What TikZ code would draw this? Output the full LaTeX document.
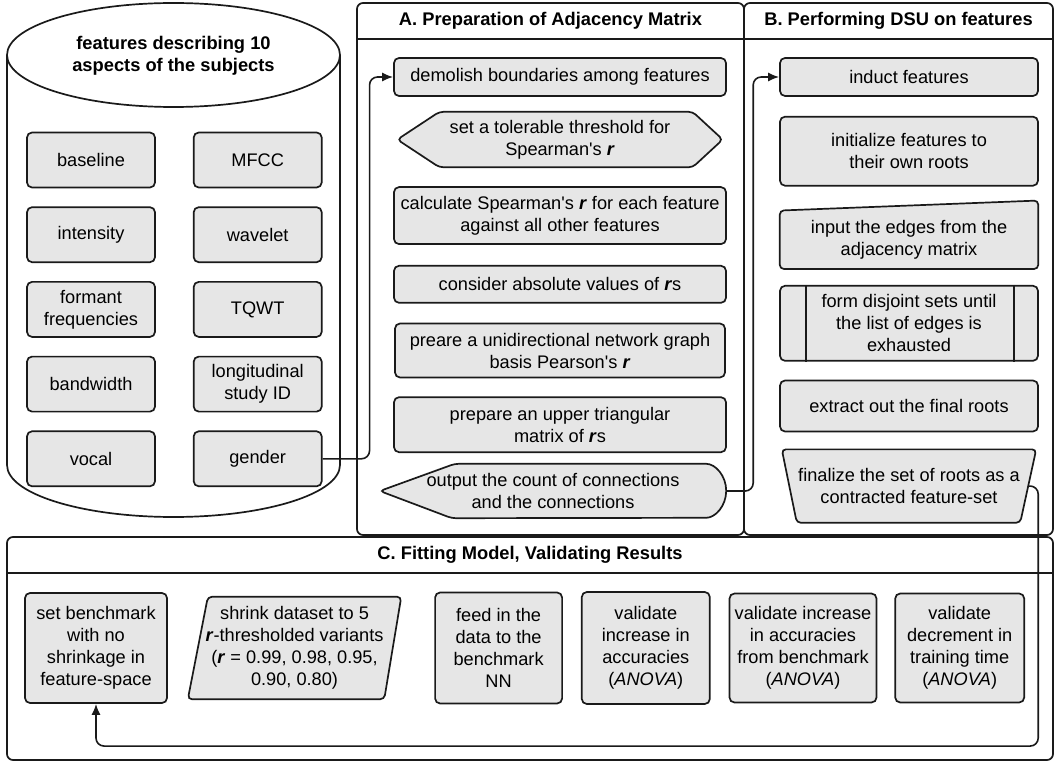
\documentclass[tikz,border=0pt]{standalone}
\usepackage{fontspec}
\setmainfont{Liberation Sans}
\usetikzlibrary{positioning,calc,arrows.meta,backgrounds}

\definecolor{boxfill}{HTML}{E6E6E6}
\definecolor{ink}{HTML}{1A1A1A}
\newcommand{\rbold}{\textbf{\textit{r}}}

\tikzset{
  box/.style={draw=ink, fill=boxfill, line width=1.7pt, rounded corners=5pt, align=center, inner sep=1pt},
  feat/.style={box, minimum width=128pt, minimum height=55pt},
  bare/.style={align=center, inner sep=1pt},
  outline/.style={draw=ink, fill=boxfill, line width=1.7pt, rounded corners=4pt},
  frame/.style={draw=ink, line width=1.7pt, rounded corners=6pt},
  flow/.style={draw=ink, line width=1.6pt, rounded corners=8pt, -{Latex[length=11pt,width=9pt]}},
  paneltitle/.style={font=\fontsize{18.3}{22}\selectfont\bfseries, align=center},
}

\begin{document}
\begin{tikzpicture}[x=1pt,y=-1pt,node distance=18pt,font=\fontsize{18.2}{22}\selectfont]
    \useasboundingbox (0,0) rectangle (1057,767);

    % panels
    \draw[frame] (357,3) rectangle (744,535);
    \draw[frame] (744,3) rectangle (1053,535);
    \draw[ink, line width=1.7pt] (357,39) -- (1053,39);
    \draw[frame] (7,537) rectangle (1053,760);
    \draw[ink, line width=1.7pt] (7,573) -- (1053,573);
    \node[paneltitle] (titleA) at (550.5,21) {A. Preparation of Adjacency Matrix};
    \node[paneltitle] (titleB) at (898.5,21) {B. Performing DSU on features};
    \node[paneltitle] (titleC) at (530,555) {C. Fitting Model, Validating Results};

    % feature store
    \node[paneltitle] (store) at (173.5,56) {features describing 10\\aspects of the subjects};
    \node[feat] (base) at (91,160) {baseline};
    \node[feat] (inten) [below=of base] {intensity};
    \node[feat] (formant) [below=of inten] {formant\\frequencies};
    \node[feat] (band) [below=of formant] {bandwidth};
    \node[feat] (vocal) [below=of band] {vocal};
    \node[feat] (mfcc) [right=37pt of base] {MFCC};
    \node[feat] (wave) [right=37pt of inten] {wavelet};
    \node[feat] (tqwt) [right=37pt of formant] {TQWT};
    \node[feat] (study) [right=37pt of band] {longitudinal\\study ID};
    \node[feat] (gender) [right=37pt of vocal] {gender};

    % A. adjacency matrix
    \node[box, minimum width=332pt, minimum height=38pt] (demol) at (560,77) {demolish boundaries among features};
    \node[bare, minimum width=325pt, minimum height=55pt] (thresh) [below=15pt of demol] {set a tolerable threshold for\\Spearman\textquotesingle s \rbold};
    \node[box, minimum width=332pt, minimum height=57pt] (calc) [below=19pt of thresh] {calculate Spearman\textquotesingle s \rbold{} for each feature\\against all other features};
    \node[box, minimum width=332pt, minimum height=37pt] (absol) [below=20pt of calc] {consider absolute values of \rbold{}s};
    \node[box, minimum width=330pt, minimum height=54pt] (graph) [below=19pt of absol] {preare a unidirectional network graph\\basis Pearson\textquotesingle s \rbold};
    \node[box, minimum width=332pt, minimum height=55pt] (upper) [below=of graph] {prepare an upper triangular\\matrix of \rbold{}s};
    \node[bare, minimum width=346pt, minimum height=54pt] (out) at (553,491) {output the count of connections\\and the connections};

    % B. DSU
    \node[box, minimum width=258pt, minimum height=38pt] (induct) at (909,77) {induct features};
    \node[box, minimum width=258pt, minimum height=69pt] (init) [below=19pt of induct] {initialize features to\\their own roots};
    \node[bare, minimum width=258pt, minimum height=58pt] (edges) [below=24pt of init] {input the edges from the\\adjacency matrix};
    \node[box, minimum width=258pt, minimum height=75pt] (disj) [below=16pt of edges] {form disjoint sets until\\the list of edges is\\exhausted};
    \node[box, minimum width=258pt, minimum height=51pt] (roots) [below=of disj] {extract out the final roots};
    \node[bare, minimum width=254pt, minimum height=73pt] (final) [below=17pt of roots] {finalize the set of roots as a\\contracted feature-set};
    \draw[ink, line width=1.7pt] ([xshift=27pt]disj.north west) -- ([xshift=27pt]disj.south west);
    \draw[ink, line width=1.7pt] ([xshift=-25pt]disj.north east) -- ([xshift=-25pt]disj.south east);

    % C. model
    \node[box, minimum width=142pt, minimum height=110pt] (bench) at (96,648) {set benchmark\\with no\\shrinkage in\\feature-space};
    \node[bare, minimum width=213pt, minimum height=102pt] (shrink) [right=20pt of bench] {shrink dataset to 5\\\rbold-thresholded variants\\(\rbold{} = 0.99, 0.98, 0.95,\\0.90, 0.80)};
    \node[box, minimum width=127pt, minimum height=111pt] (feed) [right=33pt of shrink] {feed in the\\data to the\\benchmark\\NN};
    \node[box, minimum width=128pt, minimum height=112pt] (vinc) [right=of feed] {validate\\increase in\\accuracies\\(\textit{ANOVA})};
    \node[box, minimum width=147pt, minimum height=109pt] (vbench) [right=of vinc] {validate increase\\in accuracies\\from benchmark\\(\textit{ANOVA})};
    \node[box, minimum width=129pt, minimum height=109pt] (vdec) [right=17pt of vbench] {validate\\decrement in\\training time\\(\textit{ANOVA})};

    % drawn shapes behind the texts
    \begin{scope}[on background layer]
        \draw[draw=ink, fill=white, line width=1.7pt] (7,55) -- (7,465) arc[start angle=180, end angle=360, x radius=166.5pt, y radius=52pt] -- (340,55);
        \draw[draw=ink, fill=white, line width=1.7pt] (173.5,55) ellipse [x radius=166.5pt, y radius=52pt];
        \draw[outline] (thresh.west) -- ([xshift=42pt]thresh.north west) -- ([xshift=-30pt]thresh.north east) -- (thresh.east)
            -- ([xshift=-30pt]thresh.south east) -- ([xshift=42pt]thresh.south west) -- cycle;
        \draw[outline] (out.west) -- ([xshift=75pt]out.north west) -- ([xshift=-24pt]out.north east)
            arc[start angle=90, end angle=-90, x radius=24pt, y radius=27pt] -- ([xshift=72pt]out.south west) -- cycle;
        \draw[outline] (edges.south west) -- (edges.north west) -- ([yshift=10pt]edges.north east) -- (edges.south east) -- cycle;
        \draw[outline] (final.north west) -- (final.north east) -- ([xshift=-16pt]final.south east) -- ([xshift=15pt]final.south west) -- cycle;
        \draw[outline] (shrink.south west) -- ([xshift=20pt]shrink.north west) -- (shrink.north east) -- ([xshift=-17pt]shrink.south east) -- cycle;
    \end{scope}

    % connectors
    \coordinate (finout) at ($(final.north east)!0.5!([xshift=-16pt]final.south east)$);
    \draw[flow] (gender.east) -- ++(47,0) |- (demol.west);
    \draw[flow] (out.east) -- ++(27,0) |- (induct.west);
    \draw[flow] (finout) -| ++(10,260) -| (bench.south);
\end{tikzpicture}
\end{document}
